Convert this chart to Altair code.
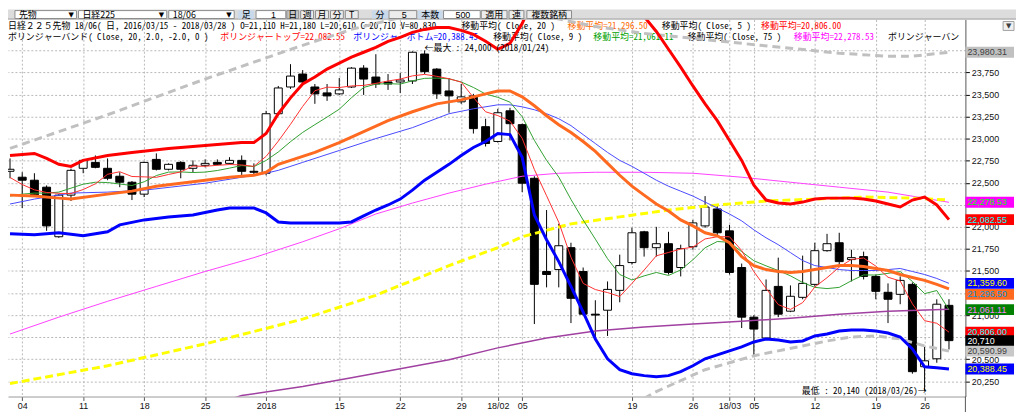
import altair as alt
import pandas as pd

# ---------------- data (index 0 = 2017-12-01 ... 77 = 2018-03-28, trading days) ----------------
open_ = [22630, 22563, 22529, 22450, 21888, 22360, 22664, 22731, 22664, 22574,
         22506, 22371, 22765, 22653, 22731, 22664, 22698, 22731, 22720, 22754,
         22630, 22608, 23283, 23586, 23733, 23586, 23519, 23508, 23586, 23800,
         23699, 23643, 23643, 23654, 23960, 23789, 23541, 23418, 23485, 23136,
         22968, 23316, 23159, 22551, 21494, 21516, 21764, 21494, 21010, 21055,
         21280, 21595, 21944, 21764, 21809, 21539, 21775, 22011, 22203, 21955,
         21539, 20976, 20740, 21325, 21044, 21201, 21348, 21730, 21820, 21629,
         21663, 21438, 21258, 21235, 21348, 20414, 20504, 21110]
high_ = [22776, 22619, 22608, 22470, 22370, 22660, 22770, 22810, 22776, 22619,
         22520, 22740, 22833, 22720, 22745, 22754, 22765, 22765, 22790, 22810,
         22720, 23316, 23598, 23845, 23778, 23620, 23620, 23688, 23811, 23834,
         23958, 23733, 23744, 23990, 24000, 23800, 23688, 23620, 23508, 23226,
         23339, 23350, 23170, 22574, 22191, 22034, 21820, 21539, 21168, 21381,
         21685, 21989, 21955, 22000, 21944, 21798, 22079, 22349, 22259, 22023,
         21584, 20999, 21404, 21651, 21336, 21674, 21820, 21921, 21933, 21741,
         21719, 21460, 21359, 21438, 21370, 20639, 21179, 21180]
low_ = [22551, 22214, 22340, 21955, 21876, 22293, 22608, 22664, 22529, 22450,
        22304, 22338, 22640, 22640, 22551, 22619, 22675, 22698, 22709, 22585,
        22597, 22585, 23270, 23564, 23609, 23395, 23429, 23496, 23575, 23496,
        23575, 23553, 23519, 23620, 23733, 23451, 23294, 23395, 23058, 22911,
        22956, 22979, 22394, 20898, 21314, 21314, 20909, 20988, 20740, 20763,
        21145, 21573, 21663, 21663, 21460, 21438, 21741, 21989, 21899, 21460,
        20853, 20526, 20729, 20976, 21033, 21179, 21325, 21719, 21573, 21381,
        21404, 21179, 20909, 21123, 20335, 20140, 20459, 20610]
close_ = [22653, 22529, 22349, 22011, 22360, 22641, 22754, 22675, 22551, 22506,
          22371, 22731, 22653, 22709, 22653, 22698, 22720, 22709, 22754, 22630,
          22619, 23283, 23575, 23710, 23643, 23508, 23485, 23553, 23800, 23676,
          23620, 23620, 23665, 23980, 23760, 23508, 23485, 23474, 23114, 22945,
          23294, 23170, 22495, 21348, 21460, 21786, 21190, 21010, 21000, 21291,
          21561, 21933, 21764, 21809, 21483, 21753, 22045, 22225, 21933, 21483,
          20976, 20841, 21280, 21010, 21213, 21359, 21730, 21809, 21606, 21651,
          21438, 21269, 21179, 21393, 20358, 20481, 21123, 20710]

ma5 = [22560, 22480, 22420, 22390, 22380, 22378, 22423, 22488, 22596, 22625,
       22571, 22567, 22562, 22594, 22623, 22689, 22687, 22698, 22707, 22702,
       22686, 22799, 22972, 23163, 23366, 23544, 23584, 23580, 23598, 23604,
       23627, 23654, 23676, 23712, 23729, 23707, 23680, 23641, 23468, 23305,
       23262, 23199, 23004, 22650, 22353, 22052, 21656, 21359, 21289, 21255,
       21210, 21359, 21510, 21672, 21710, 21748, 21771, 21863, 21888, 21888,
       21732, 21492, 21303, 21118, 21064, 21141, 21318, 21424, 21543, 21631,
       21647, 21555, 21429, 21386, 21127, 20936, 20907, 20806]
ma9 = [22349, 22371, 22383, 22383, 22394, 22439, 22484, 22506, 22503, 22486,
       22469, 22511, 22582, 22621, 22623, 22616, 22621, 22639, 22666, 22695,
       22683, 22753, 22849, 22966, 23071, 23159, 23245, 23334, 23464, 23581,
       23619, 23624, 23619, 23656, 23684, 23687, 23679, 23643, 23581, 23506,
       23469, 23414, 23249, 22981, 22754, 22565, 22311, 22078, 21861, 21639,
       21460, 21398, 21444, 21483, 21449, 21512, 21627, 21763, 21834, 21825,
       21719, 21616, 21558, 21505, 21445, 21369, 21314, 21300, 21314, 21389,
       21455, 21454, 21473, 21493, 21381, 21243, 21278, 21061]

bbu_i = [0, 2, 3, 4, 5, 6, 8, 10, 13, 16, 19, 20, 21, 22, 23, 24, 25, 26, 27, 28,
         29, 30, 31, 32, 33, 34, 35, 36, 37, 38, 39, 40, 41, 42, 43, 44, 45, 46, 47, 48,
         49, 50, 51, 52, 53, 54, 55, 56, 57, 58, 59, 60, 61, 62, 63, 64, 65, 66, 67, 68,
         69, 70, 71, 72, 73, 74, 75, 76, 77]
bbu_v = [22810, 22833, 22776, 22709, 22686, 22754, 22810, 22844, 22889, 22923, 22956, 22956,
         23058, 23283, 23463, 23620, 23699, 23789, 23856, 23924, 23980, 24036, 24104, 24149,
         24205, 24239, 24261, 24261, 24228, 24183, 24104, 24014, 24081, 24306, 24610, 24850,
         25000, 25100, 25150, 25150, 25100, 24950, 24700, 24385, 24216, 24014, 23811, 23598,
         23395, 23204, 22979, 22754, 22473, 22304, 22270, 22259, 22281, 22315, 22326, 22326,
         22326, 22315, 22293, 22259, 22225, 22304, 22338, 22248, 22082.55]

bbl_i = [0, 2, 4, 6, 8, 9, 11, 13, 15, 17, 18, 20, 21, 22, 23, 25, 27, 28, 29, 30,
         31, 32, 33, 34, 35, 36, 37, 38, 39, 40, 41, 42, 43, 44, 45, 46, 47, 48, 49, 50,
         51, 52, 53, 54, 55, 56, 57, 58, 59, 60, 61, 62, 63, 64, 65, 66, 67, 68, 69, 70,
         71, 72, 73, 74, 75, 76, 77]
bbl_v = [21921, 21910, 21933, 21899, 21944, 22023, 22079, 22113, 22135, 22191, 22214, 22214,
         22158, 22056, 22045, 22045, 22045, 22056, 22124, 22191, 22248, 22315, 22416, 22529,
         22619, 22709, 22810, 22900, 22968, 23058, 23046, 22788, 22135, 21854, 21606, 21325,
         21033, 20729, 20504, 20380, 20335, 20313, 20301, 20313, 20358, 20425, 20504, 20549,
         20594, 20639, 20695, 20729, 20718, 20695, 20706, 20763, 20785, 20819, 20830, 20830,
         20819, 20796, 20751, 20616, 20414, 20403, 20388.45]

ma20_i = [0, 2, 4, 5, 8, 10, 12, 14, 16, 18, 20, 21, 22, 23, 25, 27, 29, 31, 33, 35,
          37, 39, 40, 41, 42, 43, 44, 45, 46, 47, 48, 49, 50, 51, 52, 53, 54, 55, 56, 57,
          58, 59, 60, 61, 62, 63, 64, 65, 66, 67, 68, 69, 70, 71, 72, 73, 74, 75, 76, 77]
ma20_v = [22360, 22349, 22326, 22315, 22371, 22405, 22461, 22495, 22529, 22563, 22585, 22619,
          22709, 22754, 22844, 22956, 23080, 23204, 23305, 23395, 23440, 23508, 23541, 23541,
          23474, 23373, 23260, 23159, 23069, 22968, 22855, 22720, 22585, 22461, 22360, 22259,
          22180, 22079, 22011, 21933, 21899, 21820, 21663, 21561, 21516, 21494, 21483, 21494,
          21516, 21539, 21561, 21561, 21550, 21528, 21505, 21460, 21426, 21393, 21348, 21296.5]

ma25_i = [0, 2, 5, 8, 11, 16, 21, 22, 24, 27, 30, 33, 36, 38, 40, 41, 42, 43, 44, 45,
          46, 47, 48, 49, 50, 51, 52, 53, 54, 55, 56, 57, 58, 59, 60, 61, 62, 63, 64, 65,
          66, 67, 68, 69, 70, 71, 72, 73, 74, 75, 76, 77]
ma25_v = [22259, 22315, 22383, 22394, 22416, 22495, 22608, 22641, 22731, 22866, 23001, 23125,
          23283, 23339, 23384, 23384, 23361, 23328, 23283, 23226, 23148, 23046, 22945, 22844,
          22754, 22686, 22608, 22529, 22461, 22405, 22349, 22281, 22214, 22146, 22068, 21966,
          21876, 21798, 21708, 21618, 21561, 21539, 21516, 21505, 21505, 21505, 21516, 21528,
          21494, 21460, 21415, 21359.6]

ma75_i = [0, 4, 8, 12, 16, 20, 24, 27, 30, 33, 36, 39, 42, 45, 48, 52, 56, 60, 64, 68, 72, 77]
ma75_v = [20785, 20976, 21156, 21325, 21494, 21651, 21831, 21978, 22146, 22270, 22383, 22484,
          22574, 22608, 22619, 22619, 22608, 22563, 22506, 22450, 22394, 22278.53]

yel_i = [0, 8, 16, 24, 30, 36, 40, 42, 46, 50, 54, 58, 62, 66, 70, 74, 77]
yel_v = [20223, 20425, 20673, 20954, 21224, 21561, 21764, 21888, 22034, 22113, 22191, 22248,
         22293, 22315, 22338, 22326, 22304]

pur_i = [18, 19, 24, 28, 32, 36, 40, 44, 48, 52, 56, 60, 64, 68, 72, 77]
pur_v = [20043, 20088, 20189, 20290, 20391, 20493, 20628, 20740, 20819, 20864, 20898, 20931,
         20965, 21010, 21044, 21066]

gtop_i = [0, 4, 8, 12, 16, 20, 24, 28, 32, 36, 40, 44, 48, 52, 56, 60, 64, 68, 72, 74, 77]
gtop_v = [22889, 23080, 23271, 23474, 23676, 23868, 24059, 24239, 24374, 24441, 24441, 24385,
          24272, 24194, 24138, 24081, 24025, 23969, 23935, 23935, 23980.31]

gbot_i = [52, 53, 55, 57, 59, 61, 63, 65, 67, 69, 71, 73, 75, 77]
gbot_v = [20054, 20133, 20256, 20380, 20459, 20538, 20594, 20650, 20706, 20751, 20763, 20729,
          20650, 20590.99]

tick_idx = [1, 6, 11, 16, 21, 27, 32, 37, 40, 42, 51, 56, 59, 61, 66, 71, 75]
tick_lab = ["04", "11", "18", "25", "2018", "15", "22", "29", "18/02", "05", "19", "26",
            "18/03", "05", "12", "19", "26"]
y_ticks = list(range(20250, 24001, 250))
y_hidden = [24000, 22250, 21250, 20750]   # price labels covered by the value boxes

box_vals = [23980.31, 22278.53, 22082.55, 21359.60, 21061.11, 20806.00, 20710, 20590.99, 20388.45]
box_text = ["23,980.31", "22,278.53", "22,082.55", "21,359.60", "21,061.11", "20,806.00",
            "20,710", "20,590.99", "20,388.45"]
ma20_box_val = [21296.50]
ma20_box_text = ["21,296.50"]

# ---------------- styles ----------------
box_bg = ["#c0c0c0", "#ff00ff", "#ff0000", "#0000ff", "#008000", "#ff0000", "#000000", "#c8c8c8", "#0000ff"]
box_fg = ["#3f3f3f", "#00ff00", "#00ffff", "#ffff00", "#ff7fff", "#00ffff", "#ffffff", "#404040", "#ffff00"]

JP = "Noto Sans Mono CJK JP, Noto Sans CJK JP, DejaVu Sans Mono"
NUM = "Liberation Sans"
W, H = 965, 380

xsc = alt.Scale(domain=[0.2415, 77.94], nice=False, zero=False)
ysc = alt.Scale(domain=[20076.25, 24351.25], nice=False, zero=False)

label_expr = " : ".join(f"datum.value == {i} ? '{l}'" for i, l in zip(tick_idx, tick_lab)) + " : ''"
ylabel_expr = " || ".join(f"datum.value == {v}" for v in y_hidden) + " ? '' : format(datum.value, ',d')"

xaxis = alt.Axis(values=tick_idx, labelExpr=label_expr, orient="bottom", grid=True,
                 gridDash=[2, 2], gridColor="#b8b8b8", domainColor="#9a9a9a", tickColor="#555555",
                 tickSize=4, labelFont=NUM, labelFontSize=9, labelColor="#111111", labelPadding=1,
                 labelOverlap=False, labelFlush=False, title=None, labelBaseline="top")
yaxis = alt.Axis(values=y_ticks, labelExpr=ylabel_expr, orient="right", grid=True,
                 gridDash=[2, 2], gridColor="#b8b8b8", domainColor="#555555", tickColor="#000000",
                 tickSize=4, labelFont=NUM, labelFontSize=9, labelColor="#111111", labelPadding=2,
                 labelOverlap=False, title=None)

X = alt.X("idx:Q", scale=xsc, axis=xaxis)


def Y(field):
    return alt.Y(f"{field}:Q", scale=ysc, axis=yaxis)


one = pd.DataFrame({"a": [0]})

cdf = pd.DataFrame({"idx": list(range(len(close_))), "o": open_, "h": high_, "l": low_, "c": close_})
cdf["dir"] = ["up" if c >= o else "down" for o, c in zip(open_, close_)]

layers = []


def txt(s, x, y, color="#000000", size=9, font=JP, align="left", baseline="middle"):
    return alt.Chart(one).mark_text(text=s, color=color, fontSize=size, font=font, align=align,
                                    baseline=baseline).encode(x=alt.value(x), y=alt.value(y))


def rect(x1, x2, y1, y2, fill, stroke=None):
    kw = dict(fill=fill)
    if stroke:
        kw.update(stroke=stroke, strokeWidth=1)
    return alt.Chart(one).mark_rect(**kw).encode(x=alt.value(x1), x2=alt.value(x2),
                                                 y=alt.value(y1), y2=alt.value(y2))


# candles
wick = alt.Chart(cdf).mark_rule(color="black", strokeWidth=1).encode(x=X, y=Y("l"), y2="h:Q")
body = alt.Chart(cdf).mark_bar(size=8, stroke="black", strokeWidth=1).encode(
    x=X, y=Y("o"), y2="c:Q",
    fill=alt.Fill("dir:N", scale=alt.Scale(domain=["up", "down"], range=["white", "black"]), legend=None))
layers += [wick, body]

# legend texts (behind the indicator lines)
y1, y2 = 6.5, 17.5
legend = [
    (0, y1, "日経２２５先物 18/06( 日, 2016/03/15 - 2018/03/28 )", "#000000"),
    (234, y1, "O=21,110 H=21,180 L=20,610 C=20,710 V=80,830", "#000000"),
    (457, y1, "移動平均( Close, 20 )", "#000000"),
    (564, y1, "移動平均=21,296.50", "#ff6a00"),
    (659, y1, "移動平均( Close, 5 )", "#000000"),
    (759, y1, "移動平均=20,806.00", "#ff0000"),
    (0, y2, "ボリンジャーバンド( Close, 20, 2.0, -2.0, 0 )", "#000000"),
    (214, y2, "ボリンジャートップ=22,082.55", "#ff0000"),
    (348, y2, "ボリンジャーボトム=20,388.45", "#0000ff"),
    (489, y2, "移動平均( Close, 9 )", "#000000"),
    (590, y2, "移動平均=21,061.11", "#00a000"),
    (685, y2, "移動平均( Close, 75 )", "#000000"),
    (792, y2, "移動平均=22,278.53", "#ff00ff"),
    (887, y2, "ボリンジャーバン", "#000000"),
]
for x, y, s, col in legend:
    layers.append(txt(s, x, y, col))


def line(idx, vals, color, width, dash=None):
    df = pd.DataFrame({"idx": idx, "v": vals})
    kw = dict(color=color, strokeWidth=width, clip=True)
    if dash:
        kw["strokeDash"] = dash
    return alt.Chart(df).mark_line(**kw).encode(x=X, y=Y("v"))


layers += [
    line(pur_i, pur_v, "#a040a0", 1.5),
    line(ma75_i, ma75_v, "#ff40ff", 1),
    line(yel_i, yel_v, "#ffff00", 3, [8, 4]),
    line(gtop_i, gtop_v, "#c0c0c0", 3, [8, 5]),
    line(gbot_i, gbot_v, "#c0c0c0", 3, [8, 5]),
    line(ma25_i, ma25_v, "#4848ff", 1),
    line(list(range(78)), ma9, "#30a030", 1),
    line(list(range(78)), ma5, "#ff3030", 1),
    line(ma20_i, ma20_v, "#ff6a20", 3),
    line(bbl_i, bbl_v, "#0000ff", 3),
    line(bbu_i, bbu_v, "#ff0000", 3),
]

# annotations
amax = pd.DataFrame({"idx": [34], "v": [24000], "t": ["←最大 : 24,000 (2018/01/24)"]})
amin = pd.DataFrame({"idx": [75], "v": [20140], "t": ["最低 : 20,140 (2018/03/26)→"]})
layers.append(alt.Chart(amax).mark_text(align="left", baseline="middle", dy=-2, font=JP, fontSize=9,
                                        color="#000000").encode(x=X, y=Y("v"), text="t:N"))
layers.append(alt.Chart(amin).mark_text(align="right", baseline="middle", dx=2, font=JP, fontSize=9,
                                        color="#000000").encode(x=X, y=Y("v"), text="t:N"))

# value boxes on the right axis
bdf = pd.DataFrame({"v": box_vals, "t": box_text, "bg": box_bg, "fg": box_fg})
layers.append(alt.Chart(bdf).mark_rect(yOffset=-5.5, y2Offset=5.5).encode(
    x=alt.value(965), x2=alt.value(1014), y=Y("v"), y2="v:Q", fill=alt.Fill("bg:N", scale=None)))
layers.append(alt.Chart(bdf).mark_text(align="left", baseline="middle", font=NUM, fontSize=9).encode(
    x=alt.value(967), y=Y("v"), text="t:N", color=alt.Color("fg:N", scale=None)))
odf = pd.DataFrame({"v": ma20_box_val, "t": ma20_box_text})
layers.append(alt.Chart(odf).mark_rect(yOffset=0, y2Offset=11, fill="#ff6a20").encode(
    x=alt.value(965), x2=alt.value(1014), y=Y("v"), y2="v:Q"))
layers.append(alt.Chart(odf).mark_text(align="left", baseline="middle", font=NUM, fontSize=9, dy=5.5,
                                       color="#0095df").encode(x=alt.value(967), y=Y("v"), text="t:N"))

# right frame line extension below plot
layers.append(alt.Chart(one).mark_rule(color="#555555").encode(
    x=alt.value(965), y=alt.value(380), y2=alt.value(396)))

# toolbar (above plot)
TB = "#dcdcdc"
layers.append(rect(0, 1016, -10, 0, TB))
layers.append(alt.Chart(one).mark_rule(color="#a0a0a0").encode(
    x=alt.value(0), x2=alt.value(1016), y=alt.value(-0.5)))
combos = [(7, 69, "先物"), (71, 160, "日経225"), (162, 228, "18/06")]
for a, b, s in combos:
    layers.append(rect(a, b, -9, -1, "#ffffff", "#8c8c8c"))
    layers.append(txt(s, a + 4, -5, "#000000", 9, "Noto Sans CJK JP"))
    layers.append(txt("▼", b - 8, -5, "#000000", 7, "DejaVu Sans"))
labels_blue = [(232, 248, "足"), (367, 383, "分"), (413, 438, "本数")]
for a, b, s in labels_blue:
    layers.append(rect(a, b, -9, -1, "#c9d9ec"))
    layers.append(txt(s, (a + b) / 2, -5, "#000000", 9, "Noto Sans CJK JP", "center"))
spins = [(250, 280, "1", "#ffffff"), (384, 412, "5", "#ececec"), (439, 476, "500", "#ffffff")]
for a, b, s, f in spins:
    layers.append(rect(a, b, -9, -1, f, "#8c8c8c"))
    layers.append(txt(s, b - 10, -5, "#000000", 9, NUM, "right"))
buttons = [(281, 293, "日"), (295, 308, "週"), (310, 323, "月"), (325, 338, "分"), (340, 353, "T"),
           (477, 503, "適用"), (505, 520, "連"), (523, 568, "複数銘柄")]
for a, b, s in buttons:
    layers.append(rect(a, b, -9, -1, "#c4c4c4" if s == "日" else "#ececec", "#8c8c8c"))
    layers.append(txt(s, (a + b) / 2, -5, "#000000", 9, "Noto Sans CJK JP", "center"))
layers.append(rect(1003, 1014, 2, 11, "#f0f0f0", "#a0a0a0"))
layers.append(txt("▼", 1008.5, 6.5, "#404040", 7, "DejaVu Sans", "center"))

chart = alt.layer(*layers).properties(
    width=W, height=H,
    padding={"left": 0, "top": 10, "right": 51, "bottom": 14},
    autosize=alt.AutoSizeParams(type="none"),
    background="white",
).configure_view(stroke=None)

chart.save("out.html", embed_options={"renderer": "svg", "actions": False})
